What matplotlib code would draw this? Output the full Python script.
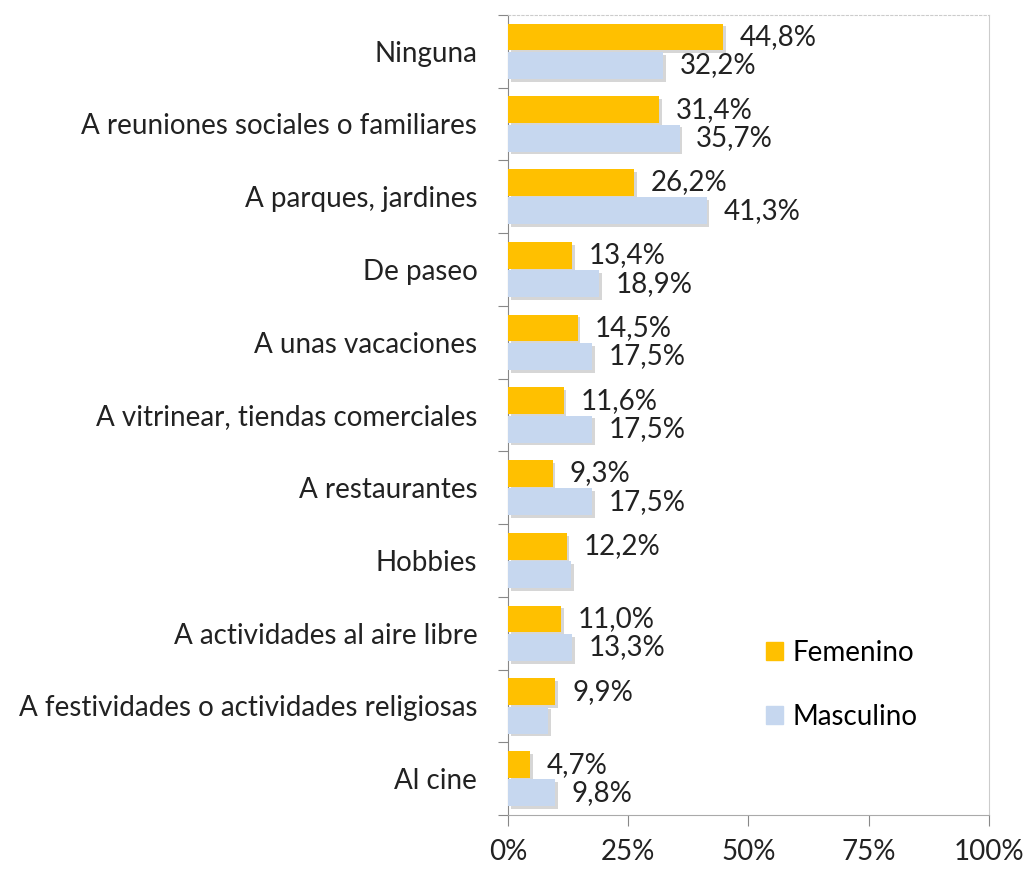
import numpy as np
import matplotlib
matplotlib.use("Agg")
import matplotlib.pyplot as plt
import matplotlib.patheffects as pe
from matplotlib.patches import Patch
from matplotlib.ticker import FixedLocator, PercentFormatter

categorias = ["Ninguna", "A reuniones sociales o familiares", "A parques, jardines",
              "De paseo", "A unas vacaciones", "A vitrinear, tiendas comerciales",
              "A restaurantes", "Hobbies", "A actividades al aire libre",
              "A festividades o actividades religiosas", "Al cine"]
femenino = [44.8, 31.4, 26.2, 13.4, 14.5, 11.6, 9.3, 12.2, 11.0, 9.9, 4.7]
masculino = [32.2, 35.7, 41.3, 18.9, 17.5, 17.5, 17.5, 13.1, 13.3, 8.3, 9.8]
# etiquetas que se muestran (None = sin etiqueta en el original)
etq_fem = ["44,8%", "31,4%", "26,2%", "13,4%", "14,5%", "11,6%", "9,3%", "12,2%", "11,0%", "9,9%", "4,7%"]
etq_mas = ["32,2%", "35,7%", "41,3%", "18,9%", "17,5%", "17,5%", "17,5%", None, "13,3%", None, "9,8%"]

col_fem = "#FFC000"
col_mas = "#C6D7EF"

plt.rcParams['font.family'] = ['Lato', 'DejaVu Sans']
fs = 20

fig = plt.figure(figsize=(10.28, 8.69), dpi=100)
ax = fig.add_axes([0.494, 0.062, 0.468, 0.921])

n = len(categorias)
y = np.arange(n)
h = 0.37
sombra = [pe.SimplePatchShadow(offset=(2, -2), shadow_rgbFace="#bbbbbb", alpha=0.6), pe.Normal()]

b1 = ax.barh(y - h / 2 - 0.01, femenino, height=h, color=col_fem, zorder=3)
b2 = ax.barh(y + h / 2 + 0.01, masculino, height=h, color=col_mas, zorder=3)
for b in list(b1) + list(b2):
    b.set_path_effects(sombra)

for i in range(n):
    ax.annotate(etq_fem[i], (femenino[i], y[i] - h / 2 - 0.01), xytext=(12, 0),
                textcoords="offset points", va="center", ha="left", fontsize=fs, color="#222222")
    if etq_mas[i] is not None:
        ax.annotate(etq_mas[i], (masculino[i], y[i] + h / 2 + 0.01), xytext=(12, 0),
                    textcoords="offset points", va="center", ha="left", fontsize=fs, color="#222222")

ax.set_xlim(0, 100)
ax.set_ylim(n - 0.5, -0.5)
ax.xaxis.set_major_locator(FixedLocator([0, 25, 50, 75, 100]))
ax.xaxis.set_major_formatter(PercentFormatter(decimals=0))
ax.tick_params(axis="x", direction="out", length=8, color="#888888", labelsize=fs, pad=9, labelcolor="#222222")

ax.yaxis.set_major_locator(FixedLocator(np.arange(-0.5, n, 1)))
ax.yaxis.set_minor_locator(FixedLocator(y))
ax.set_yticklabels([], minor=False)
ax.set_yticklabels(categorias, minor=True)
ax.tick_params(axis="y", which="major", direction="out", length=7, color="#888888")
ax.tick_params(axis="y", which="minor", length=0, labelsize=fs, pad=22, labelcolor="#222222")

ax.spines["left"].set_color("#888888")
ax.spines["bottom"].set_color("#aaaaaa")
ax.spines["right"].set_color("#cccccc")
ax.spines["top"].set_color("#cccccc")
ax.spines["top"].set_linestyle((0, (2, 2)))

handles = [Patch(color=col_fem), Patch(color=col_mas)]
ax.legend(handles, ["Femenino", "Masculino"], loc="upper left", bbox_to_anchor=(0.485, 0.25),
          frameon=False, fontsize=fs, handlelength=0.6, handleheight=0.6, handletextpad=0.35,
          labelspacing=1.35)

fig.savefig("out.png", dpi=100)
